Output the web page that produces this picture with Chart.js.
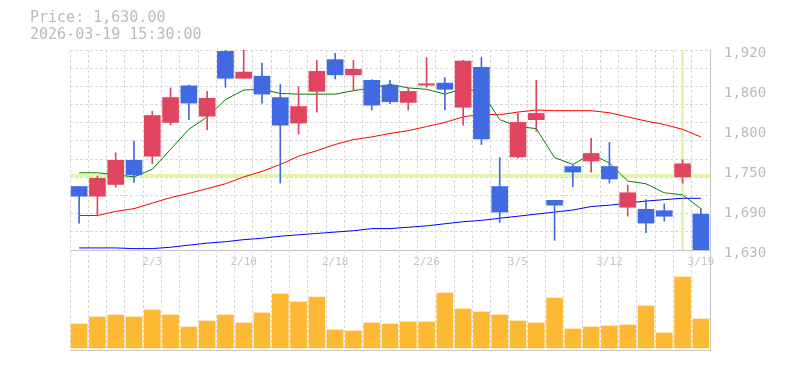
<!DOCTYPE html>
<html>
<head>
<meta charset="utf-8">
<script src="https://cdn.jsdelivr.net/npm/chart.js@4.4.1/dist/chart.umd.min.js"></script>
<style>
  body { margin: 0; background: #fff; }
  #wrap { position: relative; width: 785px; height: 370px; }
  #info { position: absolute; left: 30px; top: 9px; font: 15px "DejaVu Sans Mono", monospace; line-height: 17px; color: #bbb; white-space: pre; }
  #priceCanvas { position: absolute; left: 0; top: 0; }
  #volCanvas { position: absolute; left: 0; top: 250px; }
</style>
</head>
<body>
<div id="wrap">
  <canvas id="priceCanvas" width="785" height="272"></canvas>
  <canvas id="volCanvas" width="785" height="102"></canvas>
  <div id="info">Price: 1,630.00
2026-03-19 15:30:00</div>
</div>
<script>
// trading days shown on the chart
var dates = ['1/28','1/29','1/30','2/2','2/3','2/4','2/5','2/6','2/9','2/10',
  '2/12','2/13','2/16','2/17','2/18','2/19','2/20','2/24','2/25','2/26',
  '2/27','3/2','3/3','3/4','3/5','3/6','3/9','3/10','3/11','3/12',
  '3/13','3/16','3/17','3/18','3/19'];
var shownDates = ['2/3','2/10','2/18','2/26','3/5','3/12','3/19'];

// daily prices
var open  = [1722,1708,1725,1760,1766,1815,1868,1824,1918,1879,1882,1851,1814,1860,1906,1884,1876,1869,1844,1869,1872,1837,1895,1722,1765,1819,1702,1751,1759,1751,1692,1689,1687,1736,1682];
var close = [1708,1734,1760,1739,1825,1851,1843,1850,1879,1888,1856,1811,1838,1889,1884,1892,1840,1845,1860,1871,1863,1904,1791,1685,1815,1828,1695,1743,1770,1733,1713,1669,1679,1755,1630];
var high  = [1722,1737,1771,1788,1831,1865,1869,1860,1920,1920,1901,1870,1867,1905,1915,1905,1877,1876,1865,1909,1880,1905,1909,1764,1828,1876,1702,1754,1792,1786,1724,1703,1697,1761,1690];
var low   = [1669,1680,1721,1728,1755,1811,1819,1804,1866,1879,1843,1727,1798,1830,1878,1861,1833,1842,1833,1866,1833,1811,1783,1670,1763,1802,1644,1722,1743,1727,1679,1655,1672,1727,1630];

// moving averages
var ma5  = [1742,1742,1739,1736,1747,1776,1805,1823,1848,1862,1863,1857,1856,1856,1856,1861,1865,1870,1865,1863,1856,1864,1860,1819,1809,1806,1764,1754,1769,1756,1730,1726,1713,1710,1690];
var ma25 = [1680,1680,1686,1690,1698,1706,1712,1719,1726,1736,1744,1754,1766,1774,1783,1790,1794,1799,1803,1809,1815,1823,1827,1826,1830,1833,1832,1832,1832,1829,1823,1817,1812,1805,1794];
var ma75 = [1633,1633,1633,1632,1632,1634,1637,1640,1642,1645,1647,1650,1652,1654,1656,1658,1661,1661,1663,1665,1668,1671,1673,1676,1679,1682,1685,1688,1693,1695,1698,1701,1703,1705,1705];

// volume (shares)
var volume = [240000,310000,330000,310000,380000,330000,210000,270000,330000,250000,
  350000,540000,460000,510000,180000,170000,250000,240000,260000,260000,
  550000,390000,360000,330000,270000,250000,500000,190000,210000,220000,
  230000,420000,150000,710000,290000];

// price axis
var yTickValues = [1630,1688,1746,1804,1862,1920];
var yTickLabels = ['1,630','1,690','1,750','1,800','1,860','1,920'];

// crosshair
var crossIndex = 33;
var crossPrice = 1738;

var UP = '#e0445f';
var DOWN = '#4169e1';
var GRID = '#d9d9d9';
var AXIS = '#c4c4c4';
var LABEL = '#bbbbbb';

var candleColors = open.map(function(o, i) { return close[i] >= o ? UP : DOWN; });

var crosshair = {
  id: 'crosshair',
  beforeDatasetsDraw: function(chart) {
    var ctx = chart.ctx, a = chart.chartArea;
    var x = chart.scales.x.getPixelForValue(crossIndex);
    var y = chart.scales.y.getPixelForValue(crossPrice);
    ctx.save();
    ctx.strokeStyle = '#e4f5b0';
    ctx.lineWidth = 3;
    ctx.beginPath();
    ctx.moveTo(a.left, y); ctx.lineTo(a.right, y);
    ctx.moveTo(x, a.top); ctx.lineTo(x, a.bottom);
    ctx.stroke();
    ctx.restore();
  }
};

new Chart(document.getElementById('priceCanvas'), {
  data: {
    labels: dates,
    datasets: [
      {
        type: 'bar',
        yAxisID: 'y',
        data: open.map(function(o, i) { return [o, close[i]]; }),
        backgroundColor: candleColors,
        barThickness: 16,
        grouped: false,
        order: 0
      },
      {
        type: 'bar',
        yAxisID: 'y',
        data: low.map(function(l, i) { return [l, high[i]]; }),
        backgroundColor: candleColors,
        barThickness: 1,
        grouped: false,
        order: 1
      },
      { type: 'line', yAxisID: 'y', data: ma5, borderColor: '#008000', borderWidth: 1, pointRadius: 0, order: 2 },
      { type: 'line', yAxisID: 'y', data: ma25, borderColor: '#ff0000', borderWidth: 1, pointRadius: 0, order: 2 },
      { type: 'line', yAxisID: 'y', data: ma75, borderColor: '#0000ff', borderWidth: 1, pointRadius: 0, order: 2 }
    ]
  },
  options: {
    responsive: false,
    animation: false,
    layout: { padding: { left: 70, top: 50, right: 0, bottom: 0 } },
    plugins: { legend: { display: false }, tooltip: { enabled: false } },
    scales: {
      x: {
        type: 'category',
        offset: true,
        grid: { offset: true, color: GRID, drawTicks: false },
        border: { display: true, color: AXIS, dash: [3, 2] },
        ticks: {
          autoSkip: false, maxRotation: 0, padding: 6, color: '#c4c4c4',
          font: { family: 'DejaVu Sans Mono', size: 11 },
          callback: function(v, i) { return shownDates.indexOf(dates[i]) >= 0 ? dates[i] : ''; }
        },
        afterFit: function(s) { s.height = 22; }
      },
      yGrid: {
        position: 'left',
        min: 0, max: 11,
        ticks: { display: false, stepSize: 1 },
        grid: { color: GRID, drawTicks: false },
        border: { display: false, dash: [3, 2] },
        afterFit: function(s) { s.width = 0; }
      },
      y: {
        position: 'right',
        min: 1630, max: 1920,
        grid: { display: false },
        border: { display: true, color: AXIS },
        afterBuildTicks: function(s) { s.ticks = yTickValues.map(function(v) { return { value: v }; }); },
        ticks: {
          padding: 6, labelOffset: 3, color: LABEL,
          font: { family: 'DejaVu Sans Mono', size: 14 },
          callback: function(v, i) { return yTickLabels[i]; }
        },
        afterFit: function(s) { s.width = 75; }
      }
    }
  },
  plugins: [crosshair]
});

new Chart(document.getElementById('volCanvas'), {
  type: 'bar',
  data: {
    labels: dates,
    datasets: [{ data: volume, backgroundColor: '#fdb933', barThickness: 16 }]
  },
  options: {
    responsive: false,
    animation: false,
    layout: { padding: { left: 70, top: 0, right: 0, bottom: 0 } },
    plugins: { legend: { display: false }, tooltip: { enabled: false } },
    scales: {
      x: {
        offset: true,
        grid: { offset: true, color: GRID, drawTicks: false },
        border: { display: true, color: AXIS, dash: [3, 2] },
        ticks: { display: false },
        afterFit: function(s) { s.height = 2; }
      },
      y: {
        position: 'right',
        min: -20000, max: 980000,
        grid: { display: false },
        border: { display: true, color: AXIS },
        ticks: { display: false },
        afterFit: function(s) { s.width = 75; }
      }
    }
  }
});
</script>
</body>
</html>
